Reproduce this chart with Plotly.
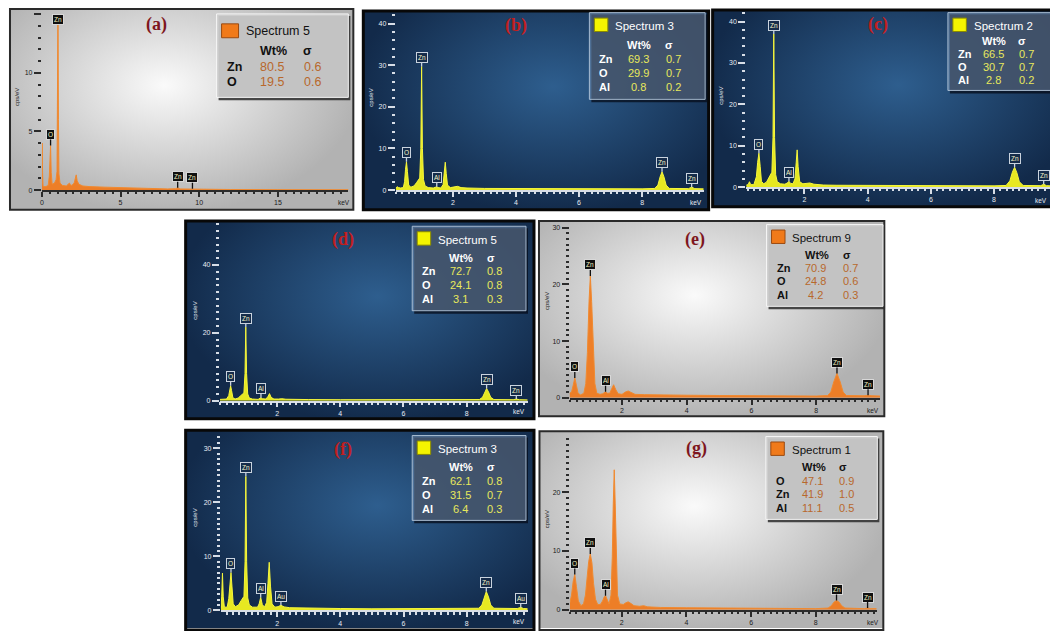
import plotly.graph_objects as go

W, H = 1050, 631

# ---------------- data ----------------
# spectra as [keV, cps/eV] vertices
spec_a = [[0.0, 0.5], [0.02, 4.0], [0.04, 1.5], [0.07, 0.4], [0.12, 0.3], [0.25, 0.3], [0.4, 0.4],
          [0.47, 1.2], [0.51, 3.2], [0.55, 3.8], [0.59, 1.5], [0.65, 0.5], [0.8, 0.6], [0.9, 0.9],
          [0.96, 1.6], [0.99, 6.0], [1.02, 15.5], [1.05, 6.0], [1.08, 1.4], [1.15, 0.6], [1.3, 0.4],
          [1.55, 0.35], [1.7, 0.5], [1.75, 0.6], [1.8, 0.45], [1.9, 0.4], [2.05, 0.6], [2.13, 1.1],
          [2.18, 1.3], [2.24, 0.8], [2.35, 0.5], [2.6, 0.35], [3.0, 0.3], [4.0, 0.25], [5.0, 0.2],
          [6.0, 0.15], [7.0, 0.12], [8.0, 0.1], [8.5, 0.12], [8.63, 0.2], [8.78, 0.1], [9.4, 0.08],
          [9.57, 0.12], [9.7, 0.08], [10.5, 0.06], [12.0, 0.05], [15.0, 0.04], [19.5, 0.03]]

spec_b = [[0.19, 0.5], [0.24, 0.8], [0.28, 0.6], [0.34, 0.5], [0.43, 0.6], [0.47, 2.0], [0.50, 5.0],
          [0.53, 6.8], [0.56, 4.5], [0.60, 1.2], [0.67, 0.7], [0.77, 1.0], [0.85, 1.8], [0.91, 2.5],
          [0.95, 2.9], [0.985, 10.0], [1.01, 29.7], [1.035, 10.0], [1.07, 2.5], [1.12, 1.0], [1.22, 0.6],
          [1.38, 0.5], [1.45, 0.6], [1.49, 0.8], [1.53, 0.6], [1.62, 0.5], [1.69, 1.3], [1.73, 4.6],
          [1.76, 6.7], [1.79, 4.0], [1.83, 1.2], [1.92, 0.6], [2.05, 0.7], [2.15, 0.9], [2.26, 0.6],
          [2.45, 0.5], [3.0, 0.4], [4.0, 0.35], [5.0, 0.3], [6.0, 0.3], [7.0, 0.3], [8.0, 0.3],
          [8.4, 0.4], [8.5, 1.2], [8.57, 3.2], [8.63, 4.4], [8.69, 3.2], [8.76, 1.2], [8.86, 0.4],
          [9.2, 0.3], [9.47, 0.35], [9.57, 0.7], [9.67, 0.35], [9.95, 0.3]]

spec_c = [[0.16, 0.5], [0.22, 0.6], [0.26, 1.3], [0.30, 0.6], [0.40, 0.6], [0.48, 2.5], [0.52, 6.0],
          [0.56, 8.2], [0.60, 5.0], [0.64, 1.4], [0.71, 0.8], [0.80, 1.2], [0.87, 2.2], [0.93, 3.0],
          [0.97, 3.6], [1.005, 12.0], [1.03, 37.0], [1.055, 12.0], [1.09, 3.0], [1.14, 1.3], [1.24, 0.8],
          [1.38, 0.7], [1.46, 1.0], [1.51, 1.4], [1.56, 0.9], [1.64, 0.8], [1.70, 2.0], [1.74, 6.0],
          [1.77, 9.0], [1.80, 5.0], [1.85, 1.3], [1.95, 0.8], [2.08, 0.9], [2.17, 1.0], [2.30, 0.7],
          [2.6, 0.5], [3.0, 0.45], [4.0, 0.4], [5.0, 0.35], [6.0, 0.3], [7.0, 0.3], [8.0, 0.3],
          [8.38, 0.4], [8.5, 1.5], [8.58, 3.6], [8.65, 4.8], [8.72, 3.5], [8.80, 1.3], [8.92, 0.4],
          [9.3, 0.3], [9.48, 0.35], [9.57, 0.7], [9.66, 0.35], [9.77, 0.3]]

spec_d = [[0.19, 0.4], [0.28, 0.5], [0.40, 0.5], [0.47, 1.5], [0.50, 3.2], [0.53, 4.4], [0.56, 3.0],
          [0.60, 0.9], [0.67, 0.5], [0.77, 0.8], [0.85, 1.5], [0.91, 2.0], [0.95, 2.3], [0.985, 8.0],
          [1.01, 21.7], [1.035, 8.0], [1.07, 2.0], [1.12, 0.8], [1.22, 0.5], [1.40, 0.4], [1.45, 0.6],
          [1.49, 0.9], [1.53, 0.6], [1.63, 0.5], [1.70, 1.0], [1.76, 2.1], [1.81, 1.0], [1.90, 0.5],
          [2.05, 0.5], [2.15, 0.6], [2.28, 0.45], [2.5, 0.4], [3.0, 0.35], [4.0, 0.3], [5.0, 0.3],
          [6.0, 0.25], [7.0, 0.25], [8.0, 0.25], [8.4, 0.35], [8.5, 1.0], [8.57, 2.6], [8.63, 3.6],
          [8.69, 2.6], [8.76, 1.0], [8.86, 0.35], [9.2, 0.25], [9.47, 0.3], [9.57, 0.5], [9.67, 0.3],
          [9.93, 0.25]]

spec_e = [[0.38, 0.8], [0.44, 1.0], [0.49, 2.2], [0.54, 3.5], [0.59, 2.2], [0.64, 0.8], [0.72, 0.5],
          [0.82, 0.8], [0.88, 2.5], [0.93, 8.0], [0.98, 17.0], [1.02, 21.5], [1.06, 17.0], [1.11, 8.0],
          [1.16, 2.5], [1.22, 0.8], [1.32, 0.6], [1.40, 0.7], [1.45, 0.95], [1.49, 1.05], [1.54, 0.8],
          [1.62, 0.8], [1.68, 1.6], [1.74, 2.3], [1.80, 1.5], [1.88, 0.7], [2.0, 0.6], [2.1, 1.0],
          [2.19, 1.2], [2.28, 0.9], [2.4, 0.6], [2.7, 0.55], [3.0, 0.5], [4.0, 0.45], [5.0, 0.4],
          [6.0, 0.35], [7.0, 0.3], [8.0, 0.3], [8.35, 0.4], [8.45, 1.0], [8.54, 2.8], [8.64, 4.3],
          [8.74, 2.8], [8.83, 1.0], [8.93, 0.4], [9.3, 0.3], [9.48, 0.35], [9.6, 0.45], [9.72, 0.35],
          [9.97, 0.3]]

spec_f = [[0.22, 0.4], [0.245, 2.5], [0.27, 6.9], [0.295, 2.5], [0.33, 0.6], [0.42, 0.6], [0.47, 2.2],
          [0.50, 5.0], [0.54, 7.0], [0.57, 4.5], [0.61, 1.2], [0.68, 0.7], [0.78, 1.0], [0.86, 1.8],
          [0.91, 2.3], [0.95, 2.6], [0.985, 9.0], [1.01, 24.8], [1.035, 9.0], [1.07, 2.3], [1.12, 1.0],
          [1.22, 0.6], [1.38, 0.6], [1.43, 1.2], [1.48, 2.4], [1.53, 1.1], [1.60, 0.6], [1.67, 1.5],
          [1.71, 5.0], [1.75, 8.9], [1.79, 4.5], [1.84, 1.2], [1.93, 0.6], [2.03, 0.7], [2.12, 0.95],
          [2.22, 0.65], [2.4, 0.5], [3.0, 0.4], [4.0, 0.35], [5.0, 0.3], [6.0, 0.3], [7.0, 0.3],
          [8.0, 0.3], [8.38, 0.4], [8.48, 1.0], [8.55, 2.5], [8.62, 3.5], [8.69, 2.5], [8.76, 1.0],
          [8.86, 0.4], [9.3, 0.3], [9.6, 0.35], [9.71, 0.55], [9.8, 0.35], [9.93, 0.3]]

spec_g = [[0.40, 1.2], [0.45, 2.5], [0.50, 4.8], [0.55, 6.0], [0.60, 4.0], [0.66, 1.5], [0.74, 0.7],
          [0.82, 1.0], [0.88, 2.5], [0.93, 5.0], [0.98, 8.2], [1.03, 9.5], [1.08, 8.0], [1.13, 4.5],
          [1.19, 1.8], [1.26, 0.9], [1.34, 0.9], [1.41, 1.5], [1.46, 2.2], [1.50, 2.4], [1.55, 1.8],
          [1.61, 1.0], [1.67, 2.5], [1.71, 9.0], [1.74, 18.0], [1.77, 23.8], [1.80, 18.0], [1.83, 9.0],
          [1.87, 2.5], [1.94, 1.0], [2.05, 0.9], [2.13, 1.2], [2.2, 1.35], [2.28, 1.1], [2.38, 0.7],
          [2.55, 0.6], [2.68, 0.7], [2.8, 0.5], [3.2, 0.4], [4.0, 0.35], [5.0, 0.3], [6.0, 0.25],
          [7.0, 0.2], [8.0, 0.2], [8.38, 0.3], [8.48, 0.7], [8.56, 1.3], [8.64, 1.6], [8.72, 1.3],
          [8.8, 0.7], [8.9, 0.3], [9.3, 0.2], [9.5, 0.2], [9.6, 0.3], [9.7, 0.2], [9.88, 0.2]]

# peak markers: [element, keV, peak height]
peaks_a = [['Zn', 1.02, 15.5], ['O', 0.55, 3.8], ['Zn', 8.63, 0.2], ['Zn', 9.57, 0.12]]
peaks_b = [['O', 0.53, 6.8], ['Zn', 1.01, 29.7], ['Al', 1.49, 0.8], ['Zn', 8.63, 4.4], ['Zn', 9.57, 0.7]]
peaks_c = [['O', 0.56, 8.2], ['Zn', 1.03, 37.0], ['Al', 1.51, 1.4], ['Zn', 8.65, 4.8], ['Zn', 9.57, 0.7]]
peaks_d = [['O', 0.53, 4.4], ['Zn', 1.01, 21.7], ['Al', 1.49, 0.9], ['Zn', 8.63, 3.6], ['Zn', 9.57, 0.5]]
peaks_e = [['O', 0.54, 3.5], ['Zn', 1.02, 21.5], ['Al', 1.49, 1.05], ['Zn', 8.64, 4.3], ['Zn', 9.6, 0.45]]
peaks_f = [['O', 0.54, 7.0], ['Zn', 1.01, 24.8], ['Al', 1.48, 2.4], ['Au', 2.12, 0.95], ['Zn', 8.62, 3.5],
           ['Au', 9.71, 0.55]]
peaks_g = [['O', 0.55, 6.0], ['Zn', 1.03, 9.5], ['Al', 1.50, 2.4], ['Zn', 8.64, 1.6], ['Zn', 9.6, 0.3]]

# quantification tables
name_a, elem_a, wt_a, sig_a = 'Spectrum 5', ['Zn', 'O'], ['80.5', '19.5'], ['0.6', '0.6']
name_b, elem_b, wt_b, sig_b = 'Spectrum 3', ['Zn', 'O', 'Al'], ['69.3', '29.9', '0.8'], ['0.7', '0.7', '0.2']
name_c, elem_c, wt_c, sig_c = 'Spectrum 2', ['Zn', 'O', 'Al'], ['66.5', '30.7', '2.8'], ['0.7', '0.7', '0.2']
name_d, elem_d, wt_d, sig_d = 'Spectrum 5', ['Zn', 'O', 'Al'], ['72.7', '24.1', '3.1'], ['0.8', '0.8', '0.3']
name_e, elem_e, wt_e, sig_e = 'Spectrum 9', ['Zn', 'O', 'Al'], ['70.9', '24.8', '4.2'], ['0.7', '0.6', '0.3']
name_f, elem_f, wt_f, sig_f = 'Spectrum 3', ['Zn', 'O', 'Al'], ['62.1', '31.5', '6.4'], ['0.8', '0.7', '0.3']
name_g, elem_g, wt_g, sig_g = 'Spectrum 1', ['O', 'Zn', 'Al'], ['47.1', '41.9', '11.1'], ['0.9', '1.0', '0.5']

tags = ['(a)', '(b)', '(c)', '(d)', '(e)', '(f)', '(g)']

# ---------------- styles ----------------
THEMES = {
    'blue': dict(c0='rgb(46,94,142)', c1='rgb(18,42,74)', cx=0.55, cy=0.62,
                 frame='#080808', frame_w=3, axis='rgba(226,231,238,0.95)', text='#e6ebf2',
                 line='#f6f63c', fill='rgba(238,238,32,0.97)',
                 lab_bg='rgba(22,44,74,0.95)', lab_bd='#c9d3de', lab_tx='#f6f6c8', lab_ay=-9,
                 title='#c21f1f', leg_fill='rgba(140,165,195,0.42)', leg_bd='rgba(180,198,218,0.9)',
                 leg_sh='rgba(5,12,25,0.75)', head='#ffffff', val='#e8e85c',
                 sw='#f4f400', sw_bd='#8a8a00'),
    'gray': dict(c0='rgb(250,250,250)', c1='rgb(178,178,178)', cx=0.45, cy=0.62,
                 frame='#2a2a2a', frame_w=2, axis='#2b2b2b', text='#1a1a1a',
                 line='#f08a30', fill='rgba(238,124,34,0.97)',
                 lab_bg='#101010', lab_bd='#d8d8d8', lab_tx='#f3f3c0', lab_ay=-11,
                 title='#7e1620', leg_fill='rgba(206,206,206,0.92)', leg_bd='rgba(248,248,248,0.95)',
                 leg_sh='rgba(45,45,45,0.85)', head='#111111', val='#b8682c',
                 sw='#f07a1a', sw_bd='#9a4a10'),
}

# panel geometry in page pixels: frame (L,T,R,B), plot (x_origin, x_end, y_zero, y_top)
panels = [
    dict(tag=tags[0], spec=spec_a, peaks=peaks_a, name=name_a, elem=elem_a, wt=wt_a, sig=sig_a, theme='gray',
         frame=(8, 8, 352, 210), plot=(40, 347, 190.3, 13.3), xr=(0, 19.48), ymax=15, xd=5, xm=0.5, yd=5, ym=1,
         title=(155, 24), legend=(215, 13, 347, 97), ytitle=(15.7, 97), kev=(343, 203), lfont=12.5, hide_top=True),
    dict(tag=tags[1], spec=spec_b, peaks=peaks_b, name=name_b, elem=elem_b, wt=wt_b, sig=sig_b, theme='blue',
         frame=(362, 10, 708, 210), plot=(394.5, 703, 190.3, 14.3), xr=(0.19, 9.95), ymax=42, xd=2, xm=0.2, yd=10, ym=2,
         title=(515, 25), legend=(588.5, 11.7, 704.5, 99), ytitle=(370, 97), kev=(695, 203), lfont=11),
    dict(tag=tags[2], spec=spec_c, peaks=peaks_c, name=name_c, elem=elem_c, wt=wt_c, sig=sig_c, theme='blue',
         frame=(712, 9, 1053, 207), plot=(745.7, 1050, 187.3, 12.4), xr=(0.16, 9.77), ymax=42, xd=2, xm=0.2, yd=10, ym=2,
         title=(878, 24), legend=(947.7, 11.7, 1056, 90), ytitle=(720.7, 95), kev=(1041, 201), lfont=11),
    dict(tag=tags[3], spec=spec_d, peaks=peaks_d, name=name_d, elem=elem_d, wt=wt_d, sig=sig_d, theme='blue',
         frame=(184, 221.5, 533, 420.5), plot=(218.3, 526.7, 402.3, 224.6), xr=(0.19, 9.93), ymax=52, xd=2, xm=0.2, yd=20, ym=2,
         title=(341.7, 240), legend=(411, 226.7, 525, 311.7), ytitle=(193.3, 311.7), kev=(518.3, 413), lfont=11),
    dict(tag=tags[4], spec=spec_e, peaks=peaks_e, name=name_e, elem=elem_e, wt=wt_e, sig=sig_e, theme='gray',
         frame=(538, 221.5, 884, 418), plot=(568.7, 879.7, 399.3, 225.4), xr=(0.38, 9.97), ymax=30.5, xd=2, xm=0.2, yd=10, ym=1,
         title=(694, 240), legend=(766, 225, 882.7, 307.3), ytitle=(546.3, 301.7), kev=(872.3, 412.3), lfont=11),
    dict(tag=tags[5], spec=spec_f, peaks=peaks_f, name=name_f, elem=elem_f, wt=wt_f, sig=sig_f, theme='blue',
         frame=(184, 432, 533, 633), plot=(219.3, 526.7, 613.3, 439.2), xr=(0.22, 9.93), ymax=32, xd=2, xm=0.2, yd=10, ym=1,
         title=(341.7, 451), legend=(411, 437.3, 525, 522.7), ytitle=(193.3, 520), kev=(518.3, 624.5), lfont=11),
    dict(tag=tags[6], spec=spec_g, peaks=peaks_g, name=name_g, elem=elem_g, wt=wt_g, sig=sig_g, theme='gray',
         frame=(538.5, 433, 883, 633), plot=(569, 876.3, 612.7, 441), xr=(0.4, 9.88), ymax=29, xd=2, xm=0.2, yd=10, ym=1,
         title=(695.7, 450), legend=(765.3, 438.3, 877, 521.7), ytitle=(546, 521.7), kev=(872.3, 625.5), lfont=11),
]

SANS = 'Liberation Sans'
SERIF = 'Liberation Serif'


def fx(p):
    return p / W


def fy(p):
    return 1 - p / H


def clamp(v):
    return max(0.0, min(1.0, v))


def ref(prefix, i):
    return prefix if i == 1 else f'{prefix}{i}'


def ptext(x, y, text, font, xanchor='center', **kw):
    d = dict(xref='paper', yref='paper', x=fx(x), y=fy(y), text=text, showarrow=False,
             xanchor=xanchor, yanchor='middle', font=font)
    d.update(kw)
    return d


fig = go.Figure()
layout = dict(width=W, height=H, margin=dict(l=0, r=0, t=0, b=0), paper_bgcolor='white',
              plot_bgcolor='rgba(0,0,0,0)', showlegend=False, hovermode=False)
shapes, annos = [], []

for k, p in enumerate(panels):
    th = THEMES[p['theme']]
    bi, di = 2 * k + 1, 2 * k + 2
    L, T, R, B = p['frame']

    # ---- background (gradient) subplot ----
    layout[ref('xaxis', bi)] = dict(domain=[clamp(fx(L)), clamp(fx(R))], range=[0, 1], visible=False,
                                    fixedrange=True, anchor=ref('y', bi))
    layout[ref('yaxis', bi)] = dict(domain=[clamp(fy(B)), clamp(fy(T))], range=[0, 1], visible=False,
                                    fixedrange=True, anchor=ref('x', bi))
    cx, cy = th['cx'], th['cy']
    rx, ry = max(cx, 1 - cx) + 0.02, max(cy, 1 - cy) + 0.02
    fig.add_trace(go.Scatter(
        x=[cx - rx, cx + rx, cx + rx, cx - rx, cx - rx], y=[cy - ry, cy - ry, cy + ry, cy + ry, cy - ry],
        mode='lines', line=dict(width=0), fill='toself',
        fillgradient=dict(type='radial', colorscale=[[0, th['c0']], [1, th['c1']]]),
        hoverinfo='skip', xaxis=ref('x', bi), yaxis=ref('y', bi)))

    # ---- data subplot ----
    ox, ex, y0, yt = p['plot']
    tf = dict(size=7, color=th['text'], family=SANS)
    xa = dict(domain=[clamp(fx(ox)), clamp(fx(ex))], range=list(p['xr']), anchor=ref('y', di),
              showline=True, linecolor=th['axis'], linewidth=1.5, ticks='outside', ticklen=5, tickwidth=1.5,
              tickcolor=th['axis'], tickmode='linear', tick0=0, dtick=p['xd'], tickfont=tf,
              minor=dict(ticks='outside', ticklen=2.5, tickwidth=1.5, tickcolor=th['axis'],
                         tickmode='linear', tick0=0, dtick=p['xm'], showgrid=False),
              showgrid=False, zeroline=False, fixedrange=True)
    ya = dict(domain=[clamp(fy(y0)), clamp(fy(yt))], range=[0, p['ymax']], anchor=ref('x', di),
              showline=False, ticks='outside', ticklen=7, tickwidth=2, tickcolor=th['axis'],
              tickmode='linear', tick0=0, dtick=p['yd'], tickfont=tf,
              minor=dict(ticks='outside', ticklen=3, tickwidth=2, tickcolor=th['axis'],
                         tickmode='linear', tick0=0, dtick=p['ym'], showgrid=False),
              showgrid=False, zeroline=False, fixedrange=True)
    if p.get('hide_top'):
        ya['tickmode'] = 'array'
        ya['tickvals'] = [0, 5, 10, 15]
        ya['ticktext'] = ['0', '5', '10', '']
    layout[ref('xaxis', di)] = xa
    layout[ref('yaxis', di)] = ya

    fig.add_trace(go.Scatter(
        x=[v[0] for v in p['spec']], y=[v[1] for v in p['spec']], mode='lines',
        line=dict(color=th['line'], width=1), fill='tozeroy', fillcolor=th['fill'],
        hoverinfo='skip', xaxis=ref('x', di), yaxis=ref('y', di)))

    # peak markers
    for el, kv, ht in p['peaks']:
        base = dict(xref=ref('x', di), yref=ref('y', di), x=kv, text=el, xanchor='center',
                    font=dict(size=6.5, color=th['lab_tx'], family=SANS),
                    bgcolor=th['lab_bg'], bordercolor=th['lab_bd'], borderwidth=1, borderpad=1)
        if ht >= 0.9 * p['ymax']:
            base.update(y=p['ymax'], yanchor='top', showarrow=False)
        else:
            base.update(y=ht, yanchor='middle', showarrow=True, ax=0, ay=th['lab_ay'], arrowhead=0,
                        arrowwidth=1.3,
                        arrowcolor=th['lab_bd'] if p['theme'] == 'blue' else '#101010')
        annos.append(base)

    # axis captions and panel tag
    annos.append(ptext(p['ytitle'][0], p['ytitle'][1], 'cps/eV',
                       dict(size=6, color=th['text'], family=SANS), textangle=-90))
    annos.append(ptext(p['kev'][0], p['kev'][1], 'keV', dict(size=6.5, color=th['text'], family=SANS)))
    annos.append(ptext(p['title'][0], p['title'][1], f"<b>{p['tag']}</b>",
                       dict(size=18, color=th['title'], family=SERIF)))

    # frame
    shapes.append(dict(type='rect', xref='paper', yref='paper', x0=fx(L), x1=fx(R), y0=fy(B), y1=fy(T),
                       line=dict(color=th['frame'], width=th['frame_w']), fillcolor='rgba(0,0,0,0)',
                       layer='above'))

    # quantification box
    lL, lT, lR, lB = p['legend']
    lw, lh = lR - lL, lB - lT
    shapes.append(dict(type='rect', xref='paper', yref='paper', x0=fx(lL + 2), x1=fx(lR + 2),
                       y0=fy(lB + 3), y1=fy(lT + 2), line=dict(width=0), fillcolor=th['leg_sh'], layer='above'))
    shapes.append(dict(type='rect', xref='paper', yref='paper', x0=fx(lL), x1=fx(lR), y0=fy(lB), y1=fy(lT),
                       line=dict(color=th['leg_bd'], width=1), fillcolor=th['leg_fill'], layer='above'))
    lf = p['lfont']
    n = len(p['elem'])
    if n == 2:
        sw = (lL + 5, lT + 10, lL + 22, lT + 24)
        ys_name, ys_head, ys_rows, x_name = lT + 0.2 * lh, lT + 0.44 * lh, [lT + 0.64 * lh, lT + 0.82 * lh], lL + 27
        nf = lf
    else:
        sw = (lL + 5, lT + 5.5, lL + 18.5, lT + 19)
        ys_name, ys_head = lT + 13.5, lT + 0.37 * lh
        ys_rows = [lT + 0.535 * lh, lT + 0.695 * lh, lT + 0.86 * lh]
        x_name = lL + 24
        nf = lf + 0.5
    shapes.append(dict(type='rect', xref='paper', yref='paper', x0=fx(sw[0]), x1=fx(sw[2]), y0=fy(sw[3]),
                       y1=fy(sw[1]), line=dict(color=th['sw_bd'], width=1), fillcolor=th['sw'], layer='above'))
    hf = dict(size=lf, color=th['head'], family=SANS)
    vf = dict(size=lf, color=th['val'], family=SANS)
    annos.append(ptext(x_name, ys_name, p['name'], dict(size=nf, color=th['head'], family=SANS), xanchor='left'))
    annos.append(ptext(lL + 0.43 * lw, ys_head, '<b>Wt%</b>', hf))
    annos.append(ptext(lL + 0.69 * lw, ys_head, '<b>σ</b>', hf))
    for i in range(n):
        annos.append(ptext(lL + 8, ys_rows[i], f"<b>{p['elem'][i]}</b>", hf, xanchor='left'))
        annos.append(ptext(lL + 0.42 * lw, ys_rows[i], p['wt'][i], vf))
        annos.append(ptext(lL + 0.725 * lw, ys_rows[i], p['sig'][i], vf))

layout['shapes'] = shapes
layout['annotations'] = annos
fig.update_layout(**layout)
fig.write_html('out.html')
